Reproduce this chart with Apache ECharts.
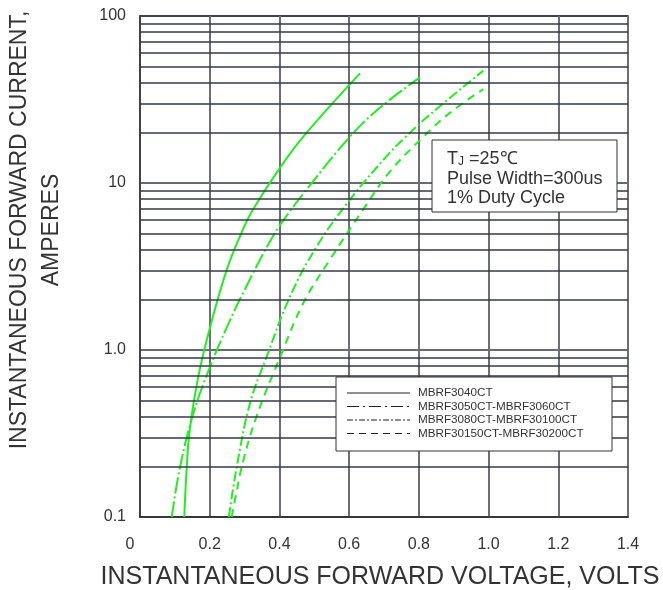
<!DOCTYPE html>
<html>
<head>
<meta charset="utf-8">
<script src="https://cdn.jsdelivr.net/npm/echarts@6/dist/echarts.min.js"></script>
<style>
  html, body { margin: 0; padding: 0; background: #fff; }
  #chart { width: 663px; height: 590px; }
</style>
</head>
<body>
<div id="chart"></div>
<script>
// forward voltage (V) / forward current (A)
var vf3040 = [0.127, 0.134, 0.143, 0.167, 0.201, 0.249, 0.287, 0.320, 0.400, 0.468, 0.631];
var if3040 = [0.1, 0.197, 0.337, 0.69, 1.37, 3.03, 4.8, 6.7, 12.2, 18.9, 45.3];

var vf3060 = [0.091, 0.115, 0.153, 0.201, 0.250, 0.300, 0.382, 0.430, 0.468, 0.602, 0.688, 0.803];
var if3060 = [0.1, 0.2, 0.417, 0.794, 1.38, 2.29, 4.82, 6.76, 8.6, 18.9, 28.2, 42.9];

var vf30100 = [0.255, 0.277, 0.316, 0.363, 0.430, 0.507, 0.602, 0.708, 0.755, 0.832, 0.985];
var if30100 = [0.1, 0.197, 0.483, 0.906, 2.08, 4.17, 7.94, 14.5, 18.3, 25.7, 47.1];

var vf30200 = [0.263, 0.277, 0.296, 0.335, 0.402, 0.468, 0.545, 0.641, 0.717, 0.813, 0.889, 0.985];
var if30200 = [0.1, 0.141, 0.216, 0.404, 0.906, 1.90, 3.48, 6.98, 11.7, 18.9, 26.3, 36.5];

var seriesNames = ['MBRF3040CT', 'MBRF3050CT-MBRF3060CT', 'MBRF3080CT-MBRF30100CT', 'MBRF30150CT-MBRF30200CT'];
var minorGrid = [0.2, 0.3, 0.4, 0.5, 0.6, 0.7, 0.8, 0.9, 2, 3, 4, 5, 6, 7, 8, 9, 20, 30, 40, 50, 60, 70, 80, 90];

function pairs(xs, ys) {
    return xs.map(function (x, i) { return [x, ys[i]]; });
}

var green = '#22ee22';
var font = 'Liberation Sans, Arial, sans-serif';
var dashes = ['solid', [16, 3, 2, 3], [10, 3, 2, 3], [8, 6]];
var legendDashes = [null, [12, 4, 2, 4], [6, 2, 2, 2], [7, 5]];
var curves = [pairs(vf3040, if3040), pairs(vf3060, if3060), pairs(vf30100, if30100), pairs(vf30200, if30200)];

var series = [
    {
        // minor log grid lines
        type: 'line',
        data: [],
        silent: true,
        z: 1,
        markLine: {
            silent: true,
            symbol: 'none',
            label: { show: false },
            lineStyle: { color: '#333a44', width: 1.5, type: 'solid' },
            data: minorGrid.map(function (v) { return { yAxis: v }; })
        }
    }
];
curves.forEach(function (d, i) {
    series.push({
        name: seriesNames[i],
        type: 'line',
        data: d,
        smooth: 0.4,
        showSymbol: false,
        z: 3,
        lineStyle: { color: green, width: 2, type: dashes[i] }
    });
});

// legend box, drawn by hand (black sample lines as in the datasheet)
var legendItems = [
    { type: 'rect', shape: { x: 336, y: 377, width: 276, height: 74 },
      style: { fill: '#fff', stroke: '#333', lineWidth: 1 }, z: 10 }
];
seriesNames.forEach(function (name, i) {
    var y = 393 + i * 13.5;
    legendItems.push({
        type: 'line', shape: { x1: 347, y1: y, x2: 410, y2: y },
        style: { stroke: '#222', lineWidth: 1, lineDash: legendDashes[i] }, z: 11
    });
    legendItems.push({
        type: 'text', x: 418, y: y,
        style: { text: name, fill: '#333', font: '11.7px ' + font, verticalAlign: 'middle' }, z: 11
    });
});

var option = {
    backgroundColor: '#fff',
    animation: false,
    grid: {
        left: 140,
        right: 35,
        top: 16,
        bottom: 73,
        show: true,
        borderColor: '#333',
        borderWidth: 1.5
    },
    xAxis: {
        type: 'value',
        min: 0,
        max: 1.4,
        interval: 0.2,
        axisLine: { show: true, lineStyle: { color: '#333', width: 1.5 } },
        axisTick: { show: false },
        axisLabel: {
            margin: 20,
            color: '#333',
            fontSize: 16,
            fontFamily: font,
            formatter: function (v) {
                return v === 0 ? '{z|0}' : v.toFixed(1);
            },
            rich: {
                z: { padding: [0, 20, 0, 0], fontSize: 16, color: '#333', fontFamily: font }
            }
        },
        splitLine: { show: true, lineStyle: { color: '#6b6f75', width: 2 } }
    },
    yAxis: {
        type: 'log',
        logBase: 10,
        min: 0.1,
        max: 100,
        axisLine: { show: true, lineStyle: { color: '#333', width: 1.5 } },
        axisTick: { show: false },
        axisLabel: {
            margin: 14,
            color: '#333',
            fontSize: 16,
            fontFamily: font,
            formatter: function (v) {
                return v >= 10 ? String(Math.round(v)) : v.toFixed(1);
            }
        },
        splitLine: { show: true, lineStyle: { color: '#333a44', width: 1.5 } }
    },
    series: series,
    graphic: [
        {
            type: 'text',
            x: 36,
            y: 230,
            rotation: Math.PI / 2,
            style: {
                text: 'INSTANTANEOUS FORWARD CURRENT,\nAMPERES',
                fill: '#333',
                font: '23px ' + font,
                lineHeight: 32,
                align: 'center',
                verticalAlign: 'middle'
            }
        },
        {
            type: 'text',
            x: 380,
            y: 577,
            style: {
                text: 'INSTANTANEOUS FORWARD VOLTAGE, VOLTS',
                fill: '#333',
                font: '25px ' + font,
                align: 'center',
                verticalAlign: 'middle'
            }
        },
        { type: 'rect', shape: { x: 432, y: 140, width: 185, height: 72 },
          style: { fill: '#fff', stroke: '#333', lineWidth: 1 }, z: 10 },
        {
            type: 'text', x: 447, y: 159, z: 11,
            style: {
                text: '{t|T}{s|J}{t| =25℃}',
                verticalAlign: 'middle',
                rich: {
                    t: { fontSize: 18, fontFamily: font, fill: '#333' },
                    s: { fontSize: 12, fontFamily: font, fill: '#333', padding: [6, 0, 0, 0] }
                }
            }
        },
        { type: 'text', x: 447, y: 179, z: 11,
          style: { text: 'Pulse Width=300us', fill: '#333', font: '18px ' + font, verticalAlign: 'middle' } },
        { type: 'text', x: 447, y: 198, z: 11,
          style: { text: '1% Duty Cycle', fill: '#333', font: '18px ' + font, verticalAlign: 'middle' } }
    ].concat(legendItems)
};

var myChart = echarts.init(document.getElementById('chart'));
myChart.setOption(option);
</script>
</body>
</html>
